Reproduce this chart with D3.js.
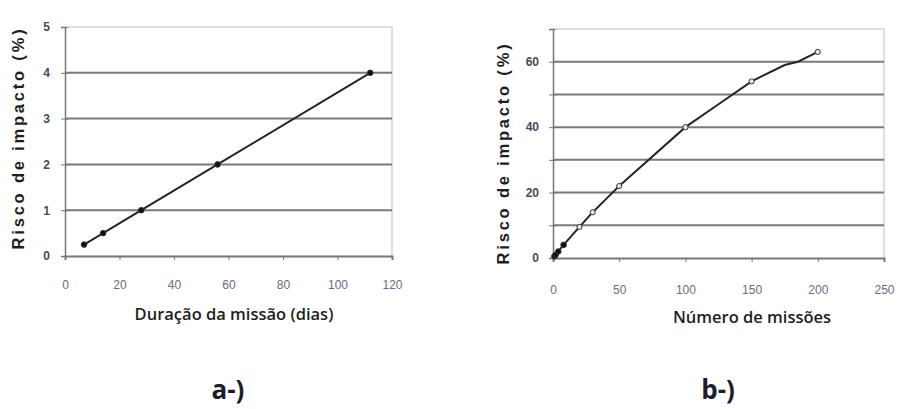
<!DOCTYPE html>
<html>
<head>
<meta charset="utf-8">
<script src="https://cdn.jsdelivr.net/npm/d3@7"></script>
<style>
body { margin: 0; background: #fff; }
svg { display: block; }
</style>
</head>
<body>
<svg id="chart" width="898" height="409"></svg>
<script>
// panel a: risco vs duração
var durDias = [7, 14, 28, 56, 112];
var riscoA = [0.25, 0.5, 1, 2, 4];
var xTicksA = [0, 20, 40, 60, 80, 100, 120];
var yTicksA = [0, 1, 2, 3, 4, 5];

// panel b: risco vs numero de missoes
var numMissoes = [0, 1, 2, 4, 8, 20, 30, 40, 50, 100, 125, 150, 175, 185, 200];
var riscoB = [0, 0.5, 1, 2, 4, 9.5, 14, 18, 22, 40, 47, 54, 59, 60, 63];
var marcadoresB = [1, 2, 4, 8, 20, 30, 50, 100, 150, 200];
var xTicksB = [0, 50, 100, 150, 200, 250];
var yTicksB = [0, 10, 20, 30, 40, 50, 60, 70];
var yLabelsB = [0, 20, 40, 60];

var svg = d3.select("svg#chart");

function draw_panel(opts) {
  var g = svg.append("g");
  var x = d3.scaleLinear().domain(opts.xDomain).range([opts.left, opts.right]);
  var y = d3.scaleLinear().domain(opts.yDomain).range([opts.bottom, opts.top]);

  // light border top / right
  g.append("path")
    .attr("d", "M" + x(opts.xDomain[0]) + "," + y(opts.yDomain[1]) + "H" + x(opts.xDomain[1]) + "V" + y(opts.yDomain[0]))
    .attr("fill", "none")
    .attr("stroke", "#d4d4d4")
    .attr("stroke-width", 1.5);

  // gridlines
  g.selectAll(".grid")
    .data(opts.yTicks.filter(function(d) {return d > opts.yDomain[0] && d < opts.yDomain[1];}))
    .enter()
    .append("line")
    .attr("x1", opts.left)
    .attr("x2", opts.right)
    .attr("y1", function(d) {return y(d);})
    .attr("y2", function(d) {return y(d);})
    .attr("stroke", "#7a7a7a")
    .attr("stroke-width", 2);

  // y axis
  var yAxis = d3.axisLeft(y)
    .tickValues(opts.yTicks)
    .tickSize(4)
    .tickPadding(opts.yPad)
    .tickFormat(function(d) {return opts.yLabels.indexOf(d) >= 0 ? d : "";});
  var ya = g.append("g").attr("transform", "translate(" + opts.left + ",0)").call(yAxis);
  ya.select(".domain").attr("stroke", "#777").attr("stroke-width", 1.5);
  ya.selectAll(".tick line").attr("stroke", "#777").attr("x2", -4).attr("x1", 3);
  ya.selectAll(".tick text")
    .attr("font-family", "Liberation Sans, Arial, sans-serif")
    .attr("font-size", 12)
    .attr("font-weight", "bold")
    .attr("fill", "#4a4a52");

  // x axis
  var xAxis = d3.axisBottom(x)
    .tickValues(opts.xTicks)
    .tickSize(4)
    .tickPadding(opts.xPad)
    .tickFormat(d3.format("d"));
  var xa = g.append("g").attr("transform", "translate(0," + opts.bottom + ")").call(xAxis);
  xa.select(".domain").attr("stroke", "#777").attr("stroke-width", 2);
  xa.selectAll(".tick line").attr("stroke", "#777");
  xa.selectAll(".tick text")
    .attr("font-family", "Liberation Sans, Arial, sans-serif")
    .attr("font-size", 12)
    .attr("fill", "#6a6a80");

  // line
  var line = d3.line()
    .x(function(d) {return x(d[0]);})
    .y(function(d) {return y(d[1]);});
  g.append("path")
    .datum(d3.zip(opts.xs, opts.ys))
    .attr("d", line)
    .attr("fill", "none")
    .attr("stroke", "#262626")
    .attr("stroke-width", 2);

  // markers
  g.selectAll(".pt")
    .data(d3.zip(opts.xs, opts.ys).filter(function(d) {return opts.marks.indexOf(d[0]) >= 0;}))
    .enter()
    .append("circle")
    .attr("cx", function(d) {return x(d[0]);})
    .attr("cy", function(d) {return y(d[1]);})
    .attr("r", function(d) {return opts.markFill(d) === "#111" ? 2.8 : 2.6;})
    .attr("fill", function(d) {return opts.markFill(d);})
    .attr("stroke", "#333")
    .attr("stroke-width", 1);

  // y label
  g.append("text")
    .attr("transform", "translate(" + opts.yLabelX + "," + opts.yLabelY + ") rotate(-90)")
    .attr("text-anchor", "middle")
    .attr("font-family", "Liberation Sans, Arial, sans-serif")
    .attr("font-weight", "bold")
    .attr("font-size", 16.5)
    .attr("letter-spacing", 2.8)
    .attr("fill", "#1e1e1e")
    .text("Risco de impacto (%)");

  // x label
  g.append("text")
    .attr("x", opts.xLabelX)
    .attr("y", opts.xLabelY)
    .attr("text-anchor", "middle")
    .attr("font-family", "Open Sans, sans-serif")
    .attr("font-weight", 600)
    .attr("font-size", 16.5)
    .attr("fill", "#1e1e1e")
    .text(opts.xLabel);

  // panel tag
  g.append("text")
    .attr("x", opts.tagX)
    .attr("y", 399)
    .attr("text-anchor", "middle")
    .attr("font-family", "Open Sans, sans-serif")
    .attr("font-weight", "bold")
    .attr("font-size", 26)
    .attr("fill", "#1c1c2e")
    .text(opts.tag);
}

draw_panel({
  xs: durDias, ys: riscoA, marks: durDias,
  markFill: function() {return "#111";},
  xDomain: [0, 120], yDomain: [0, 5],
  left: 65, right: 392, top: 27, bottom: 256,
  xTicks: xTicksA, yTicks: yTicksA, yLabels: yTicksA, yPad: 11, xPad: 20,
  yLabelX: 24, yLabelY: 138,
  xLabel: "Duração da missão (dias)", xLabelX: 234, xLabelY: 320,
  tag: "a-)", tagX: 228
});

draw_panel({
  xs: numMissoes, ys: riscoB, marks: marcadoresB,
  markFill: function(d) {return d[0] < 10 ? "#111" : "#e6e6e6";},
  xDomain: [0, 250], yDomain: [0, 70],
  left: 553, right: 884, top: 29, bottom: 258,
  xTicks: xTicksB, yTicks: yTicksB, yLabels: yLabelsB, yPad: 10, xPad: 23,
  yLabelX: 509, yLabelY: 153,
  xLabel: "Número de missões", xLabelX: 752, xLabelY: 323,
  tag: "b-)", tagX: 718
});
</script>
</body>
</html>
